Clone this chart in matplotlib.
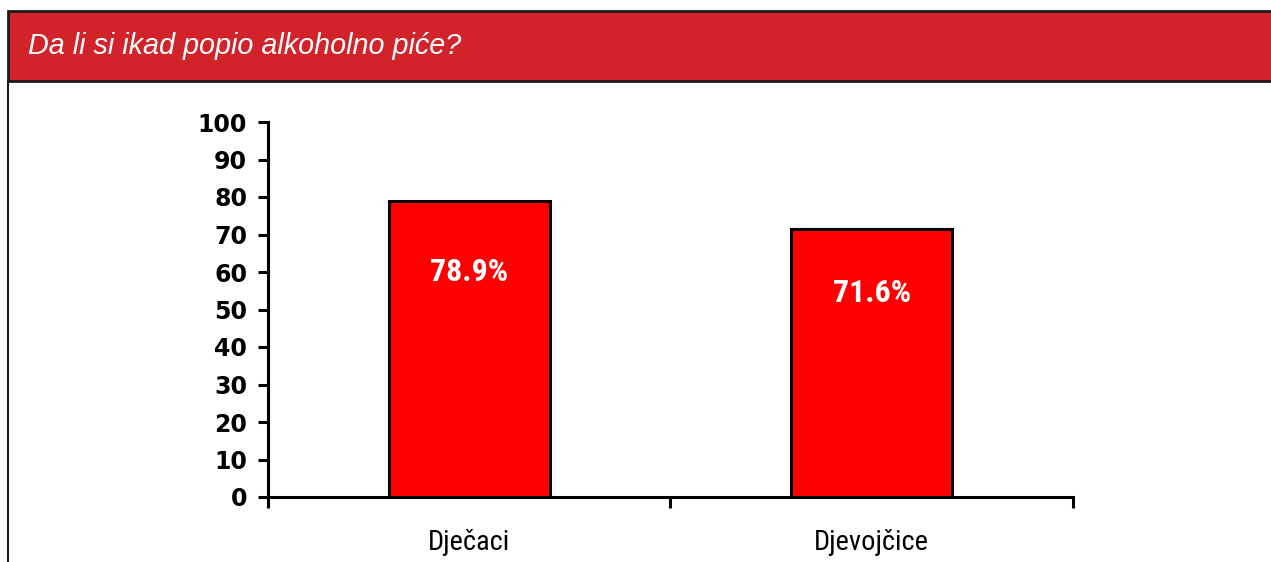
import matplotlib
matplotlib.use("Agg")
import matplotlib.pyplot as plt
from matplotlib.patches import Rectangle
from matplotlib.lines import Line2D
import numpy as np

# podaci
title = "Da li si ikad popio alkoholno piće?"
categories = ["Dječaci", "Djevojčice"]
values = [78.9, 71.6]
value_labels = ["78.9%", "71.6%"]
yticks = [0, 10, 20, 30, 40, 50, 60, 70, 80, 90, 100]

W, H = 1271, 562
fig = plt.figure(figsize=(W / 100, H / 100), dpi=100)

# crveno zaglavlje
hdr = Rectangle((8 / W, 1 - 81 / H), 1.0, 70 / H, transform=fig.transFigure,
                facecolor="#D2232A", edgecolor="#1a1a1a", linewidth=2)
fig.patches.append(hdr)
fig.text(28 / W, 1 - 46 / H, title, color="white", fontsize=20.7, style="italic",
         family="Liberation Sans", va="center", ha="left")
# lijeva ivica okvira
fig.add_artist(Line2D([8 / W, 8 / W], [0, 1 - 81 / H], transform=fig.transFigure,
                      color="#1a1a1a", linewidth=1.5))

ax = fig.add_axes([268 / W, 65 / H, 805 / W, 375 / H])
x = np.arange(len(categories)) + 0.5
ax.bar(x, values, width=0.4, color="#FF0000", edgecolor="black", linewidth=2.2)

narrow = ["Roboto Condensed", "Liberation Sans"]
for xi, v, lab in zip(x, values, value_labels):
    ax.text(xi, v * 0.76, lab, color="white", fontsize=23, fontweight="bold",
            family=narrow, ha="center", va="center")

ax.set_xlim(0, 2)
ax.set_ylim(0, 100)
ax.set_yticks(yticks)
ax.set_yticklabels([str(t) for t in yticks], fontsize=17, fontweight="bold",
                   family="DejaVu Sans")
ax.set_xticks([0, 1, 2])
ax.set_xticklabels([])
ax.set_xticks(x, minor=True)
ax.set_xticklabels(categories, minor=True, fontsize=20.5, family=narrow)
ax.tick_params(axis="x", which="minor", length=0, pad=23)
ax.tick_params(axis="x", which="major", length=8, width=2.2, direction="out")
ax.tick_params(axis="y", length=7, width=2.2, pad=8)
for s in ["top", "right"]:
    ax.spines[s].set_visible(False)
for s in ["left", "bottom"]:
    ax.spines[s].set_linewidth(2.2)

fig.savefig("out.png", dpi=100)
